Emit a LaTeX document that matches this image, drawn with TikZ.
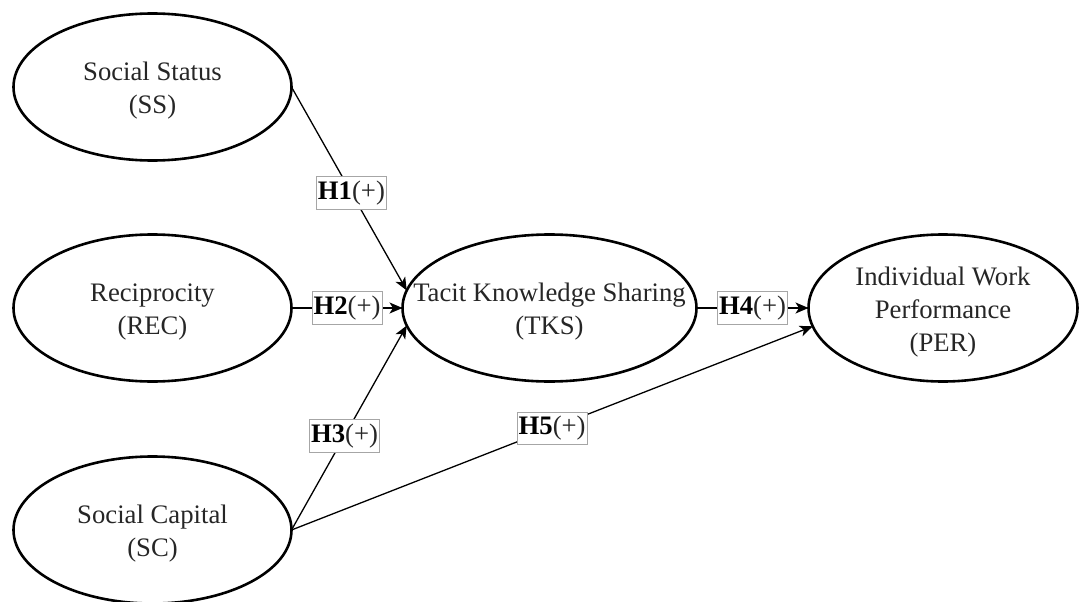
\documentclass[tikz,border=0pt]{standalone}
\usepackage{fontspec}
\setmainfont{Liberation Serif}
\usetikzlibrary{shapes.geometric,arrows.meta}
\begin{document}
\begin{tikzpicture}[x=1pt,y=-1pt,
  construct/.style={ellipse, draw, line width=2.6pt, inner sep=0pt, outer sep=0pt, minimum height=147pt},
  ctext/.style={align=center, yshift=-4pt, font=\fontsize{26.7}{33}\selectfont, text=black!85},
  hyp/.style={draw=black!35, line width=0.8pt, fill=white, inner xsep=1.5pt, inner ysep=4pt, text=black!85, font=\fontsize{26.7}{33}\selectfont},
  hypedge/.style={line width=1.3pt, -{Stealth[length=13pt,width=11pt,inset=3.5pt]}}
]
\useasboundingbox (0,0) rectangle (1080,602);
\node[construct, minimum width=278pt, label={[ctext]center:{Social Status\\(SS)}}] (SS) at (152.5,87) {};
\node[construct, minimum width=278pt, label={[ctext]center:{Reciprocity\\(REC)}}] (REC) at (152.5,308) {};
\node[construct, minimum width=278pt, label={[ctext]center:{Social Capital\\(SC)}}] (SC) at (152.5,530) {};
\node[construct, minimum width=294pt, label={[ctext]center:{Tacit Knowledge Sharing\\(TKS)}}] (TKS) at (549.5,308) {};
\node[construct, minimum width=269pt, label={[ctext]center:{Individual Work\\Performance\\(PER)}}] (PER) at (943,308) {};

\draw[hypedge] (SS.east) -- node[hyp, pos=0.52] {\textbf{\color{black}H1}(+)} (TKS.173);
\draw[hypedge] (REC.east) -- node[hyp, pos=0.5] {\textbf{\color{black}H2}(+)} (TKS.west);
\draw[hypedge] (SC.east) -- node[hyp, pos=0.46] {\textbf{\color{black}H3}(+)} (TKS.187);
\draw[hypedge] (TKS.east) -- node[hyp, pos=0.5] {\textbf{\color{black}H4}(+)} (PER.west);
\draw[hypedge] (SC.east) -- node[hyp, pos=0.5] {\textbf{\color{black}H5}(+)} (PER.188.5);
\end{tikzpicture}
\end{document}
